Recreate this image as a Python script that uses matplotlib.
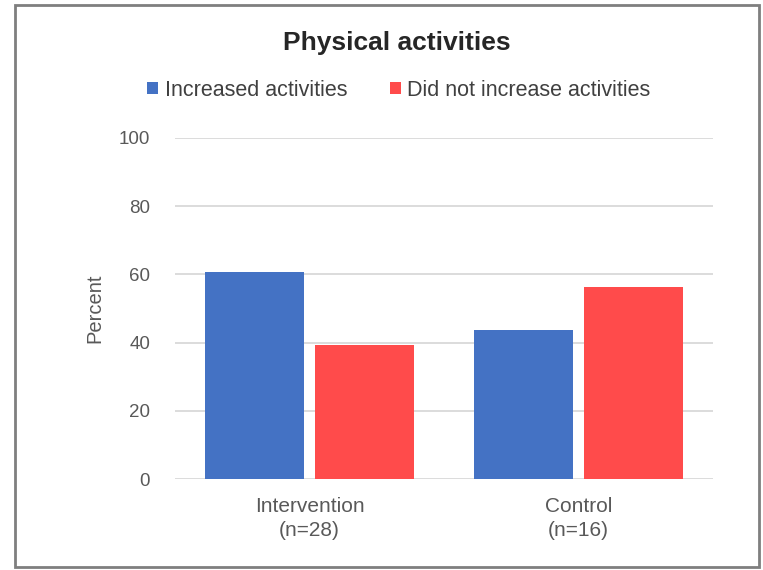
import numpy as np
import matplotlib
matplotlib.use("Agg")
import matplotlib.pyplot as plt
from matplotlib.patches import Rectangle

plt.rcParams['font.family'] = ['Liberation Sans', 'DejaVu Sans']

groups = ["Intervention\n(n=28)", "Control\n(n=16)"]
increased = [60.7, 43.75]
not_increased = [39.3, 56.25]
series_names = ["Increased activities", "Did not increase activities"]
yticks = [0, 20, 40, 60, 80, 100]

blue = "#4472C4"
red = "#FF4B4B"
grey_txt = "#595959"

fig = plt.figure(figsize=(7.63, 5.70), dpi=100)
ax = fig.add_axes([0.2294, 0.1596, 0.7051, 0.5983])

x = np.arange(len(groups))
w = 0.37
off = 0.205
ax.bar(x - off, increased, w, color=blue, label=series_names[0], zorder=3)
ax.bar(x + off, not_increased, w, color=red, label=series_names[1], zorder=3)

ax.set_xlim(-0.5, 1.5)
ax.set_ylim(0, 100)
ax.set_yticks(yticks)
ax.set_xticks(x)
ax.set_xticklabels(groups, color=grey_txt, fontsize=15, linespacing=1.3)
ax.tick_params(axis='y', labelcolor=grey_txt, labelsize=13.5, length=0, pad=18)
ax.tick_params(axis='x', length=0, pad=13)
ax.grid(axis='y', color="#d9d9d9", linewidth=1.3, zorder=0)
for s in ax.spines.values():
    s.set_visible(False)
ax.set_ylabel("Percent", color=grey_txt, fontsize=14.5, labelpad=10)

fig.text(0.520, 0.925, "Physical activities", ha='center', va='center',
         fontsize=19, fontweight='bold', color="#262626")

handles, labels = ax.get_legend_handles_labels()
fig.legend(handles, labels, loc='center', bbox_to_anchor=(0.523, 0.842), ncol=2,
           frameon=False, fontsize=15.5, handlelength=0.5, handleheight=0.5,
           handletextpad=0.3, columnspacing=2.0, labelcolor="#404040")

# grey frame around the chart area
fig.patches.append(Rectangle((0.02, 0.006), 0.975, 0.985, transform=fig.transFigure,
                             fill=False, edgecolor="#7f7f7f", linewidth=2.0))

fig.savefig("out.png", dpi=100)
